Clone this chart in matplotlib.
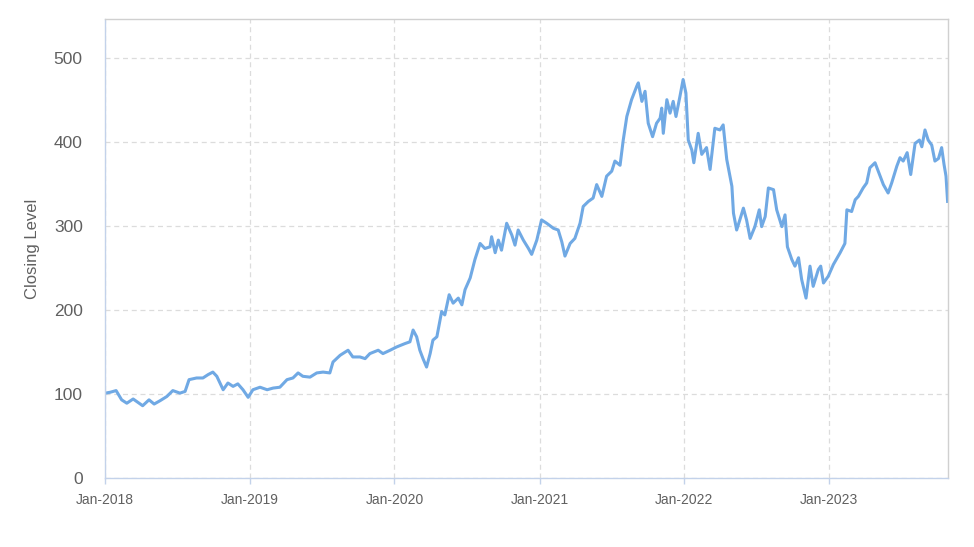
"""Closing level line chart, Jan-2018 to Oct-2023."""

import matplotlib

matplotlib.use("Agg")
import matplotlib.dates as mdates
import matplotlib.pyplot as plt
import pandas as pd

plt.rcParams["font.family"] = ["Liberation Sans", "DejaVu Sans"]

# Values.
DATES = [
    "2018-01-02", "2018-01-14", "2018-01-29", "2018-02-12", "2018-02-25", "2018-03-13",
    "2018-03-25", "2018-04-06", "2018-04-22", "2018-05-05", "2018-05-20", "2018-06-06",
    "2018-06-21", "2018-07-09", "2018-07-22", "2018-08-01", "2018-08-20", "2018-09-05",
    "2018-09-18", "2018-09-30", "2018-10-10", "2018-10-26", "2018-11-07", "2018-11-20",
    "2018-12-02", "2018-12-15", "2018-12-28", "2019-01-09", "2019-01-27", "2019-02-14",
    "2019-03-01", "2019-03-18", "2019-04-05", "2019-04-20", "2019-05-03", "2019-05-15",
    "2019-06-02", "2019-06-19", "2019-07-05", "2019-07-22", "2019-07-30", "2019-08-17",
    "2019-09-06", "2019-09-18", "2019-10-06", "2019-10-19", "2019-10-31", "2019-11-21",
    "2019-12-03", "2019-12-21", "2020-01-07", "2020-01-28", "2020-02-09", "2020-02-17",
    "2020-02-26", "2020-03-05", "2020-03-13", "2020-03-22", "2020-03-31", "2020-04-07",
    "2020-04-17", "2020-04-29", "2020-05-07", "2020-05-18", "2020-05-28", "2020-06-10",
    "2020-06-19", "2020-06-27", "2020-07-10", "2020-07-22", "2020-08-04", "2020-08-16",
    "2020-08-29", "2020-09-02", "2020-09-11", "2020-09-19", "2020-09-27", "2020-10-10",
    "2020-10-23", "2020-10-31", "2020-11-08", "2020-11-21", "2020-12-04", "2020-12-12",
    "2020-12-25", "2021-01-06", "2021-01-19", "2021-02-05", "2021-02-17", "2021-02-26",
    "2021-03-06", "2021-03-19", "2021-03-31", "2021-04-13", "2021-04-21", "2021-05-04",
    "2021-05-16", "2021-05-25", "2021-06-07", "2021-06-19", "2021-07-02", "2021-07-10",
    "2021-07-23", "2021-07-31", "2021-08-09", "2021-08-21", "2021-09-03", "2021-09-07",
    "2021-09-16", "2021-09-24", "2021-10-02", "2021-10-13", "2021-10-23", "2021-11-01",
    "2021-11-05", "2021-11-09", "2021-11-18", "2021-11-26", "2021-12-04", "2021-12-11",
    "2021-12-21", "2021-12-29", "2022-01-05", "2022-01-11", "2022-01-20", "2022-01-25",
    "2022-02-05", "2022-02-14", "2022-02-26", "2022-03-07", "2022-03-19", "2022-04-01",
    "2022-04-09", "2022-04-18", "2022-05-01", "2022-05-05", "2022-05-13", "2022-05-21",
    "2022-05-30", "2022-06-07", "2022-06-16", "2022-06-28", "2022-07-09", "2022-07-15",
    "2022-07-24", "2022-08-01", "2022-08-14", "2022-08-22", "2022-09-04", "2022-09-12",
    "2022-09-18", "2022-09-29", "2022-10-07", "2022-10-16", "2022-10-24", "2022-11-04",
    "2022-11-14", "2022-11-22", "2022-12-05", "2022-12-11", "2022-12-18", "2022-12-30",
    "2023-01-12", "2023-01-29", "2023-02-10", "2023-02-15", "2023-02-27", "2023-03-08",
    "2023-03-16", "2023-03-28", "2023-04-06", "2023-04-14", "2023-04-27", "2023-05-05",
    "2023-05-18", "2023-05-30", "2023-06-08", "2023-06-21", "2023-06-29", "2023-07-07",
    "2023-07-17", "2023-07-26", "2023-08-06", "2023-08-17", "2023-08-23", "2023-08-31",
    "2023-09-08", "2023-09-17", "2023-09-25", "2023-10-04", "2023-10-12", "2023-10-18",
    "2023-10-23", "2023-10-27",
]

CLOSING = [
    101, 102, 104, 93, 89, 94,
    90, 86, 93, 88, 92, 97,
    104, 101, 103, 117, 119, 119,
    123, 126, 121, 105, 113, 109,
    112, 105, 96, 105, 108, 105,
    107, 108, 117, 119, 125, 121,
    120, 125, 126, 125, 138, 146,
    152, 144, 144, 142, 148, 152,
    148, 152, 156, 160, 162, 176,
    168, 152, 142, 132, 148, 164,
    168, 198, 194, 218, 208, 214,
    206, 224, 238, 260, 279, 273,
    275, 287, 268, 283, 271, 303,
    289, 277, 295, 283, 273, 266,
    283, 307, 303, 297, 295, 281,
    264, 279, 285, 303, 323, 329,
    333, 349, 335, 359, 365, 377,
    372, 402, 430, 450, 466, 470,
    448, 460, 422, 406, 422, 428,
    440, 410, 450, 434, 448, 430,
    454, 474, 458, 402, 390, 375,
    410, 385, 393, 367, 416, 414,
    420, 379, 347, 315, 295, 307,
    321, 307, 285, 299, 319, 299,
    311, 345, 343, 319, 299, 313,
    275, 260, 252, 262, 236, 214,
    252, 228, 248, 252, 232, 240,
    254, 268, 279, 319, 317, 331,
    335, 345, 351, 369, 375, 365,
    349, 339, 351, 371, 381, 377,
    387, 361, 398, 402, 394, 414,
    402, 396, 377, 380, 393, 373,
    359, 329,
]

X_START = "2018-01-01"
X_END = "2023-10-28"

LINE_COLOR = "#70a9e4"
TEXT_COLOR = "#606060"
AXIS_BLUE = "#c3d2ea"
FRAME_GRAY = "#d0d0d0"

dates = pd.to_datetime(DATES)

fig = plt.figure(figsize=(9.74, 5.47), dpi=100)
ax = fig.add_axes([0.1078, 0.1261, 0.8655, 0.8392])

ax.plot(dates, CLOSING, color=LINE_COLOR, linewidth=2.2, solid_joinstyle="round")

ax.set_xlim(pd.Timestamp(X_START), pd.Timestamp(X_END))
ax.set_ylim(0, 546)
ax.set_yticks([0, 100, 200, 300, 400, 500])
ax.xaxis.set_major_locator(mdates.YearLocator())
ax.xaxis.set_major_formatter(mdates.DateFormatter("%b-%Y"))

ax.grid(True, linestyle=(0, (4, 3)), color="#dcdcdc", linewidth=0.9)
ax.set_axisbelow(True)

ax.spines["left"].set_color(AXIS_BLUE)
ax.spines["bottom"].set_color(AXIS_BLUE)
ax.spines["top"].set_color(FRAME_GRAY)
ax.spines["right"].set_color(FRAME_GRAY)
for side in ax.spines.values():
    side.set_linewidth(1.0)

ax.tick_params(axis="y", length=0, pad=16, labelsize=12.5, labelcolor=TEXT_COLOR)
ax.tick_params(axis="x", length=4, width=1, color=AXIS_BLUE, pad=7,
               labelsize=10, labelcolor=TEXT_COLOR)

ax.set_ylabel("Closing Level", fontsize=12, color=TEXT_COLOR, labelpad=10)

fig.savefig("out.png", dpi=100)
plt.close(fig)
